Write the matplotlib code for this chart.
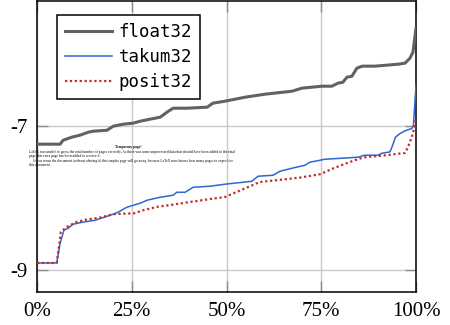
import matplotlib
matplotlib.use("Agg")
import matplotlib.pyplot as plt

# percent of samples (x) and log10 error (y)
float32_x = [0, 6.1, 6.9, 9.2, 11.3, 13.5, 14.8, 18.5, 20.1, 22.7, 25.3, 27.2, 29.8, 32.5, 34.3, 35.9,
             39.6, 44.9, 46.4, 49.6, 54.9, 60.2, 67.3, 69.9, 75.2, 77.8, 79.4, 80.7, 81.8, 83.1, 84.4,
             85.8, 89.2, 95.3, 97.1, 98.4, 99.2, 100]
float32_y = [-7.258, -7.258, -7.203, -7.161, -7.134, -7.093, -7.079, -7.065, -7.010, -6.982, -6.968,
             -6.941, -6.913, -6.885, -6.816, -6.761, -6.761, -6.747, -6.692, -6.664, -6.609, -6.567,
             -6.526, -6.484, -6.457, -6.457, -6.415, -6.402, -6.332, -6.319, -6.208, -6.180, -6.180,
             -6.153, -6.139, -6.070, -5.987, -5.655]

takum32_x = [0, 5.2, 6.1, 7.1, 8.2, 9.5, 11.9, 15.3, 19.3, 21.4, 23.7, 27.2, 29.0, 32.5, 35.9, 36.9,
             39.1, 41.2, 45.6, 49.6, 56.7, 58.3, 62.3, 64.1, 67.3, 70.7, 72.0, 76.0, 84.7, 86.5, 90.0,
             91.0, 93.1, 93.5, 94.6, 95.8, 97.0, 98.9, 99.3, 100]
takum32_y = [-8.899, -8.899, -8.627, -8.447, -8.419, -8.364, -8.337, -8.309, -8.240, -8.198, -8.129,
             -8.074, -8.033, -7.991, -7.963, -7.922, -7.922, -7.853, -7.839, -7.811, -7.770, -7.701,
             -7.687, -7.632, -7.590, -7.549, -7.507, -7.466, -7.438, -7.410, -7.410, -7.383, -7.365,
             -7.320, -7.160, -7.111, -7.075, -7.041, -7.010, -6.443]

posit32_x = [0, 5.2, 6.3, 7.8, 10.5, 13.1, 16.6, 20.1, 23.7, 25.4, 28.0, 31.6, 36.0, 40.4, 44.8, 49.6,
             52.7, 56.2, 58.8, 64.9, 69.4, 74.7, 78.1, 82.6, 85.2, 87.0, 92.3, 95.8, 97.1, 97.9, 98.9,
             99.6, 100]
posit32_y = [-8.899, -8.899, -8.470, -8.402, -8.332, -8.299, -8.272, -8.226, -8.216, -8.216, -8.171,
             -8.125, -8.092, -8.056, -8.023, -7.987, -7.918, -7.839, -7.780, -7.746, -7.719, -7.673,
             -7.594, -7.503, -7.456, -7.434, -7.410, -7.387, -7.379, -7.296, -7.158, -7.019, -6.881]

x_ticks = [0, 25, 50, 75, 100]
x_ticklabels = ["0%", "25%", "50%", "75%", "100%"]
y_ticks = [-9, -7]
y_ticklabels = ["-9", "-7"]

plt.rcParams['axes.unicode_minus'] = False

fig = plt.figure(figsize=(4.5, 3.25), dpi=100)
ax = fig.add_axes([37/450, 1-292/325, (416-37)/450, (292-1)/325])

ax.plot(float32_x, float32_y, color="#626262", lw=2.2, label="float32", zorder=3)
ax.plot(takum32_x, takum32_y, color="#2f66d0", lw=1.1, label="takum32", zorder=4)
ax.plot(posit32_x, posit32_y, color="#c42a2a", lw=1.6, ls=(0, (1, 1.2)), label="posit32", zorder=5)

ax.set_xlim(0, 100)
ax.set_ylim(-9.30, -5.28)
ax.set_xticks(x_ticks)
ax.set_xticklabels(x_ticklabels)
ax.set_yticks(y_ticks)
ax.set_yticklabels(y_ticklabels)
ax.grid(True, color="#c8c8c8", lw=1.0, zorder=0)
ax.tick_params(direction="in", length=8, width=1.0, color="#8c8c8c",
               top=True, right=True, labelsize=15, pad=7)
for lab in ax.get_xticklabels() + ax.get_yticklabels():
    lab.set_family("Liberation Serif")
for s in ax.spines.values():
    s.set_linewidth(1.1)
    s.set_color("black")

leg = ax.legend(loc="upper left", bbox_to_anchor=(20/379, 1-14/291), borderaxespad=0,
                prop={"family": "DejaVu Sans Mono", "size": 12.5}, frameon=True, fancybox=False,
                edgecolor="black", framealpha=1, handlelength=2.7, handletextpad=0.4,
                labelspacing=0.42, borderpad=0.45)
leg.get_frame().set_linewidth(1.1)

# LaTeX temporary page artifact
fig.text(128/450, 1-146.7/325, "Temporary page!", fontsize=2.6, family="Liberation Serif",
         ha="center", va="center", weight="bold")
lines = [
    "LaTeX was unable to guess the total number of pages correctly. As there was some unprocessed data that should have been added to the final",
    "page this extra page has been added to receive it.",
    "     If you rerun the document (without altering it) this surplus page will go away, because LaTeX now knows how many pages to expect for",
    "this document.",
]
line_y = [151.7, 155.9, 161.0, 165.0]
for t, yy in zip(lines, line_y):
    fig.text(29/450, 1-yy/325, t, fontsize=2.6, family="Liberation Serif",
             ha="left", va="center")

fig.savefig("out.png", dpi=100)
